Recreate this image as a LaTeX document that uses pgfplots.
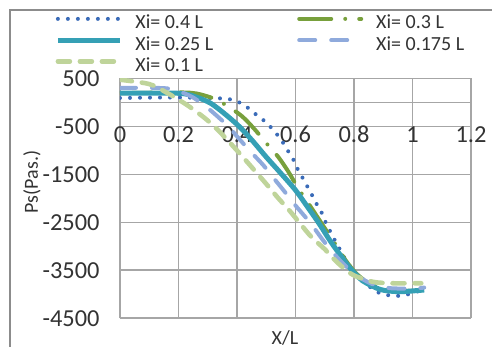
\documentclass[border=0pt]{standalone}
\usepackage{pgfplots}
\pgfplotsset{compat=1.18}
\usepackage{fontspec}
\setmainfont{Carlito}
\definecolor{cDot}{HTML}{3A6BB8}
\definecolor{cGreen}{HTML}{78A03C}
\definecolor{cTeal}{HTML}{35A0B5}
\definecolor{cLBlue}{HTML}{8FAADC}
\definecolor{cLGreen}{HTML}{BFD49A}
\definecolor{cGrid}{HTML}{A6A6A6}
\definecolor{cFrame}{HTML}{8C8C8C}
\begin{document}
\begin{tikzpicture}
\useasboundingbox (-60pt,-14.35pt) rectangle (186pt,159.15pt);
\draw[cFrame, line width=0.8pt] (-55pt,-40pt) -- (-55pt,154.15pt) -- (200pt,154.15pt);
\begin{axis}[
  at={(0pt,0pt)}, anchor=south west,
  scale only axis, width=175.5pt, height=120pt,
  xmin=0, xmax=1.2, ymin=-4500, ymax=500,
  xtick={0,0.2,0.4,0.6,0.8,1,1.2},
  xticklabels={0,0.2,0.4,0.6,0.8,1,1.2},
  ytick={-4500,-3500,-2500,-1500,-500,500},
  yticklabels={-4500,-3500,-2500,-1500,-500,500},
  extra y ticks={0}, extra y tick labels={},
  extra y tick style={grid=major},
  grid=major,
  major grid style={draw=cGrid, line width=0.8pt},
  axis line style={draw=none},
  major tick length=0pt,
  tick label style={font=\fontsize{12.2}{14}\selectfont, text=black!80},
  xticklabel pos=upper,
  xticklabel style={anchor=center, yshift=-28pt},
  yticklabel style={anchor=east, inner sep=0pt, xshift=-10pt},
  xlabel={X/L}, ylabel={Ps(Pas.)},
  label style={font=\fontsize{10}{12}\selectfont, text=black!80},
  xlabel style={at={(axis description cs:0.470,-0.082)}, anchor=center},
  ylabel style={at={(axis description cs:-0.2507,0.568)}, anchor=center},
  legend columns=2,
  legend style={draw=none, fill=none, at={(axis description cs:-0.1852,1.2659)}, anchor=north west,
    inner sep=0pt, row sep=1.6pt, column sep=0pt,
    font=\fontsize{10}{12}\selectfont, text=black!80,
    nodes={inner sep=0pt, text height=7pt, text depth=2pt},
    /tikz/every even column/.append style={column sep=42pt}},
  legend cell align=left,
  legend image code/.code={\draw[#1] (0pt,2.5pt) -- (31pt,2.5pt); \path (37.5pt,2.5pt);},
]
\addplot[cDot, line width=2pt, line cap=round, dash pattern=on 0pt off 5pt, smooth] coordinates {
(0,90) (0.17,100) (0.31,90) (0.37,69) (0.397,27) (0.424,-56) (0.454,-196) (0.475,-306) (0.503,-431) (0.523,-577) (0.547,-744) (0.571,-980) (0.595,-1220) (0.612,-1452) (0.629,-1618) (0.643,-1785) (0.66,-1973) (0.674,-2139) (0.69,-2306) (0.704,-2514) (0.718,-2681) (0.732,-2848) (0.749,-3035) (0.766,-3223) (0.783,-3389) (0.82,-3680) (0.855,-3848) (0.879,-3952) (0.912,-4014) (0.943,-4035) (0.974,-4014) (1.002,-3973) (1.031,-3910)};
\addlegendentry{Xi= 0.4 L}
\addplot[cGreen, line width=2pt, line cap=round, dash pattern=on 16pt off 7pt on 0pt off 7pt, smooth] coordinates {
(0,190) (0.2,205) (0.26,185) (0.32,80) (0.36,-50) (0.416,-285) (0.46,-560) (0.5,-850) (0.54,-1130) (0.575,-1440) (0.61,-1800) (0.65,-2160) (0.69,-2530) (0.73,-2900) (0.77,-3280) (0.81,-3580) (0.86,-3800) (0.92,-3910) (0.98,-3930) (1.04,-3920)};
\addlegendentry{Xi= 0.3 L}
\addplot[cTeal, line width=2.5pt, smooth] coordinates {
(0,190) (0.2,188) (0.26,110) (0.31,-20) (0.36,-250) (0.407,-500) (0.45,-780) (0.5,-1140) (0.55,-1480) (0.6,-1830) (0.64,-2170) (0.68,-2520) (0.72,-2900) (0.76,-3240) (0.79,-3480) (0.83,-3720) (0.89,-3900) (0.95,-3945) (1.0,-3930) (1.04,-3910)};
\addlegendentry{Xi= 0.25 L}
\addplot[cLBlue, line width=2pt, line cap=round, dash pattern=on 8pt off 8pt, smooth] coordinates {
(0,300) (0.15,295) (0.2,230) (0.25,100) (0.3,-120) (0.34,-330) (0.37,-500) (0.41,-780) (0.45,-1050) (0.49,-1310) (0.52,-1540) (0.56,-1840) (0.6,-2150) (0.65,-2510) (0.7,-2920) (0.75,-3280) (0.8,-3570) (0.86,-3780) (0.92,-3870) (1.0,-3880) (1.04,-3860)};
\addlegendentry{Xi= 0.175 L}
\addplot[cLGreen, line width=2.3pt, line cap=round, dash pattern=on 6pt off 5pt, smooth] coordinates {
(0,470) (0.1,380) (0.16,200) (0.22,-20) (0.26,-190) (0.3,-380) (0.34,-610) (0.38,-870) (0.42,-1140) (0.46,-1420) (0.5,-1700) (0.54,-1990) (0.58,-2260) (0.615,-2520) (0.655,-2810) (0.7,-3060) (0.74,-3320) (0.795,-3590) (0.865,-3740) (0.93,-3770) (0.99,-3770) (1.03,-3770)};
\addlegendentry{Xi= 0.1 L}
\end{axis}
\end{tikzpicture}
\end{document}
